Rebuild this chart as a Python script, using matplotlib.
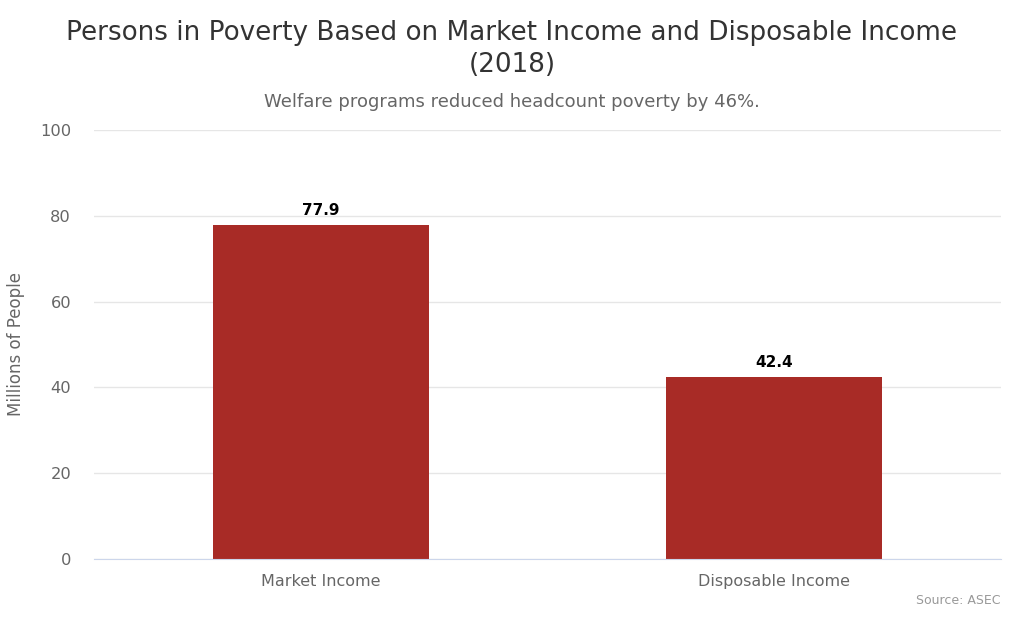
import matplotlib.pyplot as plt
import numpy as np

categories = ["Market Income", "Disposable Income"]
persons = [77.9, 42.4]
yticks = [0, 20, 40, 60, 80, 100]

plt.rcParams['font.family'] = ['DejaVu Sans']

fig = plt.figure(figsize=(10.24, 6.31), dpi=100)
ax = fig.add_axes([0.0918, 0.1141, 0.8857, 0.680])

xpos = np.arange(len(categories))
bars = ax.bar(xpos, persons, width=0.477, color='#a82b26', zorder=3)
for b, v in zip(bars, persons):
    ax.text(b.get_x() + b.get_width() / 2, v + 1.6, f"{v:.1f}",
            ha='center', va='bottom', fontsize=11, fontweight='bold', color='black')

ax.set_xlim(-0.5, 1.5)
ax.set_ylim(0, 100)
ax.set_yticks(yticks)
ax.set_xticks(xpos)
ax.set_xticklabels(categories)
ax.tick_params(axis='both', length=0, labelcolor='#666666')
ax.tick_params(axis='x', pad=11, labelsize=11.5)
ax.tick_params(axis='y', pad=16.5, labelsize=11.7)
ax.grid(axis='y', color='#e6e6e6', linewidth=1, zorder=0)
for s in ['top', 'right', 'left']:
    ax.spines[s].set_visible(False)
ax.spines['bottom'].set_color('#ccd6eb')
ax.spines['bottom'].set_zorder(4)
ax.set_ylabel("Millions of People", fontsize=12, color='#666666')
ax.yaxis.set_label_coords(-0.076, 0.5)

fig.text(0.5, 0.947, "Persons in Poverty Based on Market Income and Disposable Income",
         ha='center', va='center', fontsize=18.9, color='#333333')
fig.text(0.5, 0.897, "(2018)", ha='center', va='center', fontsize=18.9, color='#333333')
fig.text(0.5, 0.838, "Welfare programs reduced headcount poverty by 46%.",
         ha='center', va='center', fontsize=13, color='#666666')
fig.text(0.977, 0.048, "Source: ASEC", ha='right', va='center', fontsize=9, color='#999999')

fig.savefig("out.png", dpi=100)
